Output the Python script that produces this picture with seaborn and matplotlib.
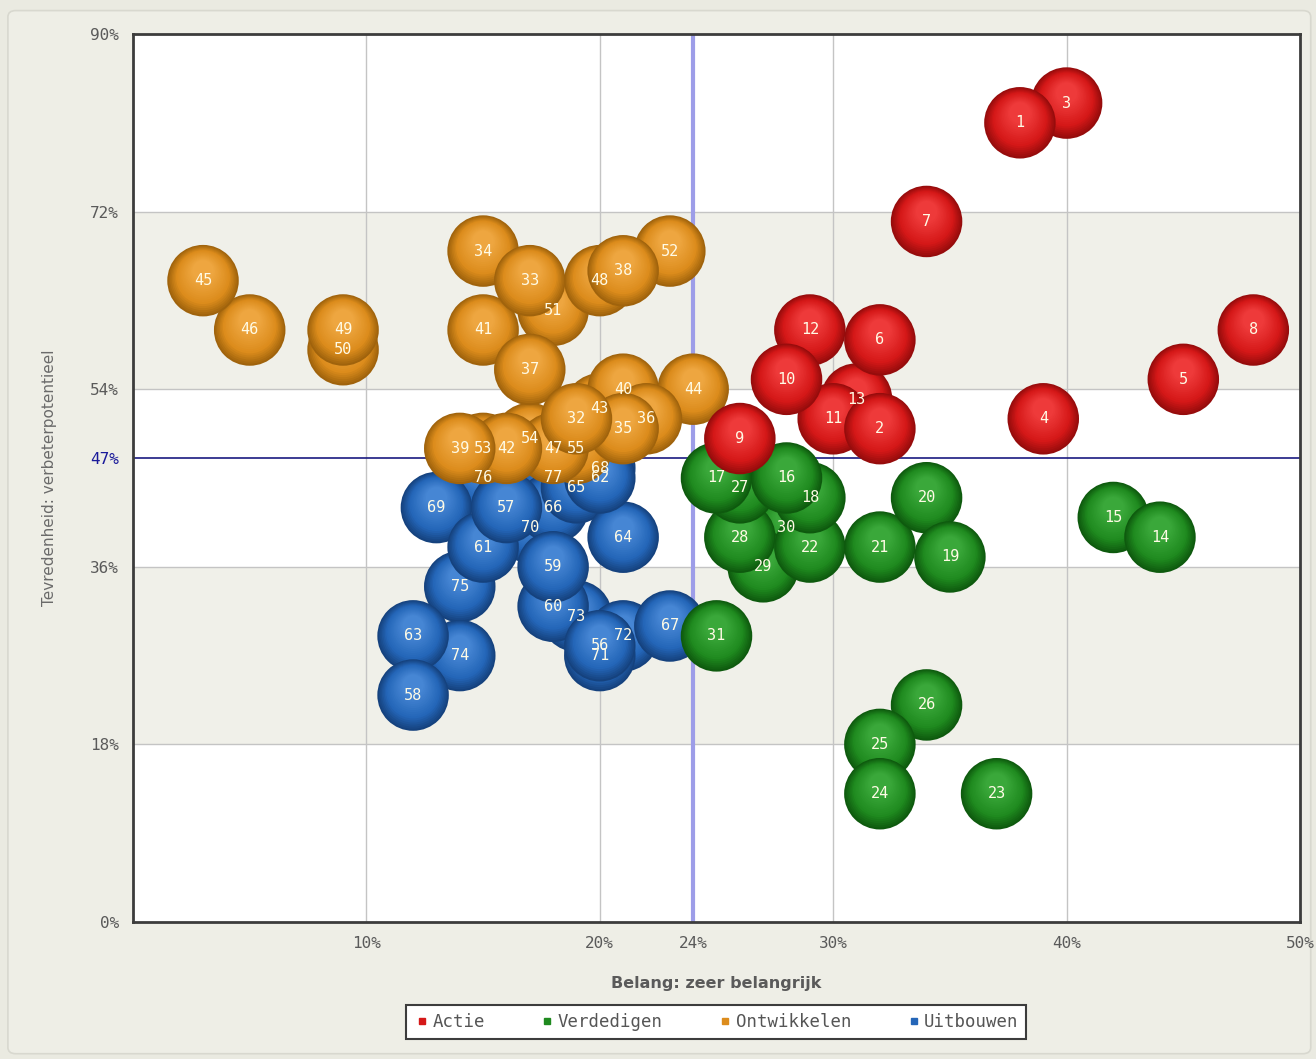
import numpy as np
import pandas as pd
import matplotlib
matplotlib.use("Agg")
import matplotlib.pyplot as plt
import seaborn as sns
from matplotlib.lines import Line2D
from matplotlib.patches import FancyBboxPatch

# ---------------- data ----------------
ids = [1, 2, 3, 4, 5, 6, 7, 8, 9, 10, 11, 12, 13,
       14, 15, 16, 17, 18, 19, 20, 21, 22, 23, 24, 25, 26, 27, 28, 29, 30, 31,
       32, 33, 34, 35, 36, 37, 38, 39, 40, 41, 42, 43, 44, 45, 46, 47, 48, 49, 50, 51, 52, 53, 54, 55,
       56, 57, 58, 59, 60, 61, 62, 63, 64, 65, 66, 67, 68, 69, 70, 71, 72, 73, 74, 75, 76, 77]
belang = [38, 32, 40, 39, 45, 32, 34, 48, 26, 28, 30, 29, 31,
          44, 42, 28, 25, 29, 35, 34, 32, 29, 37, 32, 32, 34, 26, 26, 27, 28, 25,
          19, 17, 15, 21, 22, 17, 21, 14, 21, 15, 16, 20, 24, 3, 5, 18, 20, 9, 9, 18, 23, 15, 17, 19,
          20, 16, 12, 18, 18, 15, 20, 12, 21, 19, 18, 23, 20, 13, 17, 20, 21, 19, 14, 14, 15, 18]
tevredenheid = [81, 50, 83, 51, 55, 59, 71, 60, 49, 55, 51, 60, 53,
                39, 41, 45, 45, 43, 37, 43, 38, 38, 13, 13, 18, 22, 44, 39, 36, 40, 29,
                51, 65, 68, 50, 51, 56, 66, 48, 54, 60, 48, 52, 54, 65, 60, 48, 65, 60, 58, 62, 68, 48, 49, 48,
                28, 42, 23, 36, 32, 38, 45, 29, 39, 44, 42, 30, 46, 42, 40, 27, 29, 31, 27, 34, 45, 45]
categorie = (["Actie"] * 13 + ["Verdedigen"] * 18 + ["Ontwikkelen"] * 24 + ["Uitbouwen"] * 22)

categories = ["Actie", "Verdedigen", "Ontwikkelen", "Uitbouwen"]
x_ticks = [10, 20, 24, 30, 40, 50]
y_ticks = [0, 18, 36, 47, 54, 72, 90]
x_ref, y_ref = 24, 47

df = pd.DataFrame({"id": ids, "x": belang, "y": tevredenheid, "cat": categorie})

# ---------------- style ----------------
palette = {"Actie": "#d51818", "Verdedigen": "#1f8a1f", "Ontwikkelen": "#dc8c1c", "Uitbouwen": "#2466b8"}
edge_c = {"Actie": "#960c0c", "Verdedigen": "#0e5a0e", "Ontwikkelen": "#a0630c", "Uitbouwen": "#15427e"}
light_c = {"Actie": "#ee3a3a", "Verdedigen": "#3aa83a", "Ontwikkelen": "#eea640", "Uitbouwen": "#4686d4"}

sns.set_theme(style="white")
plt.rcParams["font.family"] = ["DejaVu Sans", "Noto Sans"]

fig = plt.figure(figsize=(13.16, 10.59), dpi=100, facecolor="#eaeae1")
fig.patches.append(FancyBboxPatch((0.006, 0.005), 0.99, 0.985, boxstyle="round,pad=0,rounding_size=0.006",
                                  transform=fig.transFigure, facecolor="#eeeee6", edgecolor="#d8d8cf",
                                  lw=1.2, zorder=-10))
ax = fig.add_axes([133 / 1316, 137 / 1059, 1167 / 1316, 888 / 1059])
ax.set_facecolor("white")
ax.set_xlim(0, 50)
ax.set_ylim(0, 90)

# bands
for lo, hi in [(18, 36), (54, 72)]:
    ax.axhspan(lo, hi, color="#f0f0e9", zorder=0, lw=0)
# grid
for gx in [10, 20, 30, 40]:
    ax.axvline(gx, color="#c4c4c4", lw=1, zorder=1)
for gy in [18, 36, 54, 72]:
    ax.axhline(gy, color="#c4c4c4", lw=1, zorder=1)
ax.axvline(x_ref, color="#9d9de8", lw=3, zorder=1.5)
ax.axhline(y_ref, color="#1a1a80", lw=1.2, zorder=1.5)

# bubbles: lower numbers on top; each drawn through seaborn as layered circles for a sphere look
S = 2650
n_layers = 18
for i, row in df.iterrows():
    c = row["cat"]
    z = 3 + (100 - row["id"]) * 0.01
    base = matplotlib.colors.to_rgb(edge_c[c])
    mid = matplotlib.colors.to_rgb(palette[c])
    lit = matplotlib.colors.to_rgb(light_c[c])
    xs, ys, ss, cols = [], [], [], []
    for k in range(n_layers):
        t = k / (n_layers - 1)
        frac = 1.0 - 0.7 * t
        if t < 0.35:
            u = t / 0.35
            col = tuple(base[j] * (1 - u) + mid[j] * u for j in range(3))
        else:
            u = (t - 0.35) / 0.65
            col = tuple(mid[j] * (1 - u) + lit[j] * u for j in range(3))
        xs.append(row["x"])
        ys.append(row["y"] + 1.0 * t)
        ss.append(S * frac ** 2)
        cols.append(col)
    sub = pd.DataFrame({"x": xs, "y": ys})
    sns.scatterplot(data=sub, x="x", y="y", s=ss, c=cols, linewidth=0, legend=False,
                    ax=ax, zorder=z)

for i, row in df.iterrows():
    ax.text(row["x"], row["y"], str(row["id"]), ha="center", va="center",
            color="#fffbe6", fontsize=11, family="DejaVu Sans Mono", zorder=10)

# spines
for sp in ax.spines.values():
    sp.set_visible(True)
    sp.set_color("#3c3c3c")
    sp.set_linewidth(2)
    sp.set_zorder(11)

ax.set_xticks(x_ticks)
ax.set_xticklabels([f"{v}%" for v in x_ticks], family="DejaVu Sans Mono", fontsize=11.5, color="#5a5a5a")
ax.set_yticks(y_ticks)
ax.set_yticklabels([f"{v}%" for v in y_ticks], family="DejaVu Sans Mono", fontsize=11.5, color="#5a5a5a")
for lab in ax.get_yticklabels():
    if lab.get_text() == "47%":
        lab.set_color("#1a1a9a")
ax.tick_params(axis="both", length=0, pad=10)
ax.grid(False)

ax.set_xlabel("Belang: zeer belangrijk", fontsize=11.5, fontweight="bold", color="#5a5a5a", labelpad=18)
ax.set_ylabel("Tevredenheid: verbeterpotentieel", fontsize=11, color="#6a6a6a", labelpad=24)

handles = [Line2D([0], [0], marker="s", linestyle="none", markersize=5,
                  markerfacecolor=palette[c], markeredgecolor=palette[c], label=c) for c in categories]
leg = fig.legend(handles=handles, loc="center", bbox_to_anchor=(716 / 1316, 1 - 1022 / 1059), ncol=4,
                 frameon=True, fancybox=False, edgecolor="#3c3c3c", framealpha=1, facecolor="white",
                 prop={"family": "DejaVu Sans Mono", "size": 12.5}, handletextpad=0.1, columnspacing=3.1,
                 borderpad=0.45, handlelength=1.0)
for t in leg.get_texts():
    t.set_color("#555555")
leg.get_frame().set_linewidth(1.5)

fig.savefig("out.png", dpi=100, facecolor=fig.get_facecolor())
